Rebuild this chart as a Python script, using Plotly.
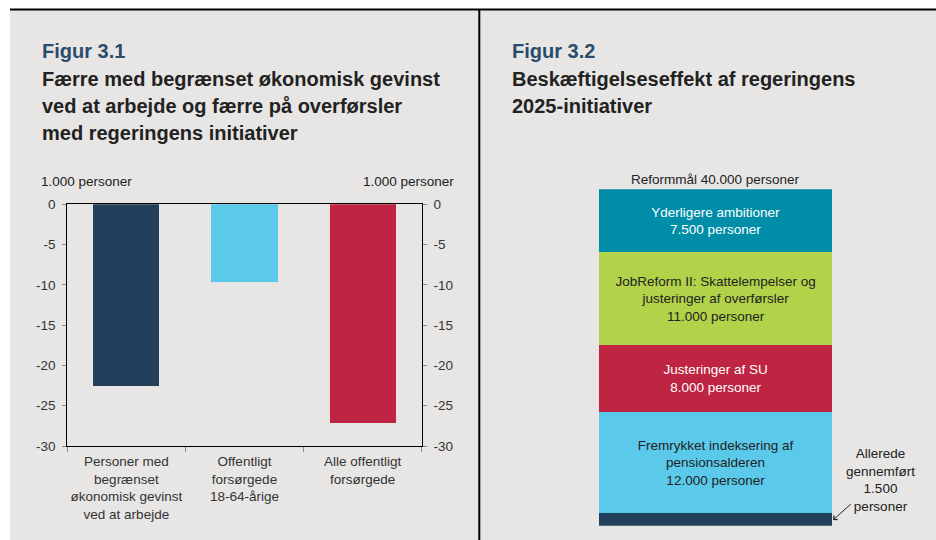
import plotly.graph_objects as go

W, H = 936, 540
FONT = "Liberation Sans, Arial, sans-serif"

# ---- Data: Figur 3.1 ----
categories_31 = [
    "Personer med<br>begrænset<br>økonomisk gevinst<br>ved at arbejde",
    "Offentligt<br>forsørgede<br>18-64-årige",
    "Alle offentligt<br>forsørgede",
]
values_31 = [-22.6, -9.7, -27.1]
colors_31 = ["#223F5C", "#5BC9EA", "#C02443"]
yticks_31 = [0, -5, -10, -15, -20, -25, -30]

# ---- Data: Figur 3.2 (bottom to top) ----
segments_32 = [
    "Allerede gennemført",
    "Fremrykket indeksering af pensionsalderen",
    "Justeringer af SU",
    "JobReform II: Skattelempelser og justeringer af overførsler",
    "Yderligere ambitioner",
]
values_32 = [1.5, 12.0, 8.0, 11.0, 7.5]
labels_32 = [
    "",
    "Fremrykket indeksering af<br>pensionsalderen<br>12.000 personer",
    "Justeringer af SU<br>8.000 personer",
    "JobReform II: Skattelempelser og<br>justeringer af overførsler<br>11.000 personer",
    "Yderligere ambitioner<br>7.500 personer",
]
colors_32 = ["#223F5C", "#5BC9EA", "#C02443", "#B1D249", "#008DA8"]
textcolors_32 = ["#FFFFFF", "#222222", "#FFFFFF", "#222222", "#FFFFFF"]


def px_x(p):
    return p / W


def px_y(p):
    return 1 - p / H


fig = go.Figure()

fig.add_trace(go.Bar(
    x=categories_31, y=values_31, marker=dict(color=colors_31, line=dict(width=0)),
    width=0.56, xaxis="x", yaxis="y", showlegend=False, hoverinfo="skip",
))
# invisible helper so the right-hand axis is drawn
fig.add_trace(go.Scatter(
    x=categories_31, y=values_31, mode="none", xaxis="x", yaxis="y2",
    showlegend=False, hoverinfo="skip",
))

for name, v, lab, c, tc in zip(segments_32, values_32, labels_32, colors_32, textcolors_32):
    fig.add_trace(go.Bar(
        x=[0], y=[v], width=1, name=name, text=[lab], textposition="inside",
        insidetextanchor="middle", textangle=0,
        textfont=dict(family=FONT, size=13.5, color=tc),
        marker=dict(color=c, line=dict(width=0)),
        xaxis="x3", yaxis="y3", showlegend=False, hoverinfo="skip",
    ))

tickfont = dict(family=FONT, size=13.5, color="#333333")

fig.update_layout(
    width=W, height=H,
    margin=dict(l=0, r=0, t=0, b=0, autoexpand=False),
    paper_bgcolor="white",
    plot_bgcolor="rgba(0,0,0,0)",
    barmode="stack",
    font=dict(family=FONT, size=13.5, color="#333333"),
    showlegend=False,
    xaxis=dict(
        domain=[px_x(67.3), px_x(421.7)], anchor="y", type="category",
        showline=True, linecolor="black", linewidth=1.3, mirror=True,
        ticks="outside", tickson="boundaries", ticklen=5, tickcolor="#888888",
        tickangle=0, automargin=False, ticklabelstandoff=3,
        tickfont=tickfont, showgrid=False, zeroline=False, fixedrange=True,
    ),
    yaxis=dict(
        domain=[px_y(446.0), px_y(204.3)], anchor="x", range=[-30, 0],
        tickvals=yticks_31, ticktext=[str(v) for v in yticks_31],
        showline=True, linecolor="black", linewidth=1.3, mirror=True,
        ticks="outside", ticklen=4, tickcolor="#888888", ticklabelstandoff=4,
        automargin=False,
        tickfont=tickfont, showgrid=False, zeroline=False, fixedrange=True,
    ),
    yaxis2=dict(
        overlaying="y", side="right", anchor="x", range=[-30, 0],
        tickvals=yticks_31, ticktext=[str(v) for v in yticks_31],
        showline=False, ticks="outside", ticklen=4, tickcolor="#888888",
        ticklabelstandoff=4, automargin=False,
        tickfont=tickfont, showgrid=False, zeroline=False, fixedrange=True,
    ),
    xaxis3=dict(
        domain=[px_x(599), px_x(832.3)], anchor="y3", range=[-0.5, 0.5],
        visible=False, fixedrange=True, automargin=False,
    ),
    yaxis3=dict(
        domain=[px_y(525.7), px_y(189.3)], anchor="x3", range=[0, 40],
        visible=False, fixedrange=True, automargin=False,
    ),
)

shapes = [
    dict(type="rect", xref="paper", yref="paper", x0=px_x(10), x1=1, y0=0, y1=px_y(9),
         fillcolor="#E7E6E4", line=dict(width=0), layer="below"),
    dict(type="line", xref="paper", yref="paper", x0=px_x(10), x1=1, y0=px_y(9.5), y1=px_y(9.5),
         line=dict(color="black", width=2)),
    dict(type="line", xref="paper", yref="paper", x0=px_x(479.3), x1=px_x(479.3), y0=0, y1=px_y(9.5),
         line=dict(color="black", width=2)),
]
fig.update_layout(shapes=shapes)

ann = []


def text_ann(txt, x, y, size, color, bold=False, xanchor="left", align="left"):
    if bold:
        txt = "<b>" + txt + "</b>"
    ann.append(dict(
        text=txt, xref="paper", yref="paper", x=px_x(x), y=px_y(y),
        xanchor=xanchor, yanchor="middle", showarrow=False, align=align,
        font=dict(family=FONT, size=size, color=color),
    ))


TITLE_BLUE = "#2A4C6E"
TITLE_DARK = "#222222"
text_ann("Figur 3.1", 40, 51, 20, TITLE_BLUE, bold=True)
text_ann("Færre med begrænset økonomisk gevinst", 40, 79, 20, TITLE_DARK, bold=True)
text_ann("ved at arbejde og færre på overførsler", 40, 106, 20, TITLE_DARK, bold=True)
text_ann("med regeringens initiativer", 40, 133, 20, TITLE_DARK, bold=True)

text_ann("Figur 3.2", 510, 51, 20, TITLE_BLUE, bold=True)
text_ann("Beskæftigelseseffekt af regeringens", 510, 79, 20, TITLE_DARK, bold=True)
text_ann("2025-initiativer", 510, 106, 20, TITLE_DARK, bold=True)

text_ann("1.000 personer", 39, 181, 13.5, "#222222")
text_ann("1.000 personer", 456, 181, 13.5, "#222222", xanchor="right", align="right")

text_ann("Allerede<br>gennemført<br>1.500<br>personer", 880, 480, 13.5, "#222222",
         xanchor="center", align="center")

# Reformmål label above the stacked bar
ann.append(dict(
    text="Reformmål 40.000 personer", xref="x3", yref="y3", x=0, y=sum(values_32),
    xanchor="center", yanchor="bottom", showarrow=False, yshift=0,
    font=dict(family=FONT, size=13.5, color="#222222"),
))
# arrow pointing to the "allerede gennemført" segment
ann.append(dict(
    text=" ", xref="x3", yref="y3", x=0.5, y=values_32[0] * 0.4,
    ax=19, ay=-17, showarrow=True, arrowhead=4, arrowsize=1.1, arrowwidth=1,
    arrowcolor="#222222", standoff=1, borderpad=0,
    font=dict(family=FONT, size=1, color="rgba(0,0,0,0)"),
))
fig.update_layout(annotations=ann)

fig.write_html(
    "out.html",
    config={"displayModeBar": False},
    post_script="document.body.style.margin='0';document.body.style.padding='0';",
)
